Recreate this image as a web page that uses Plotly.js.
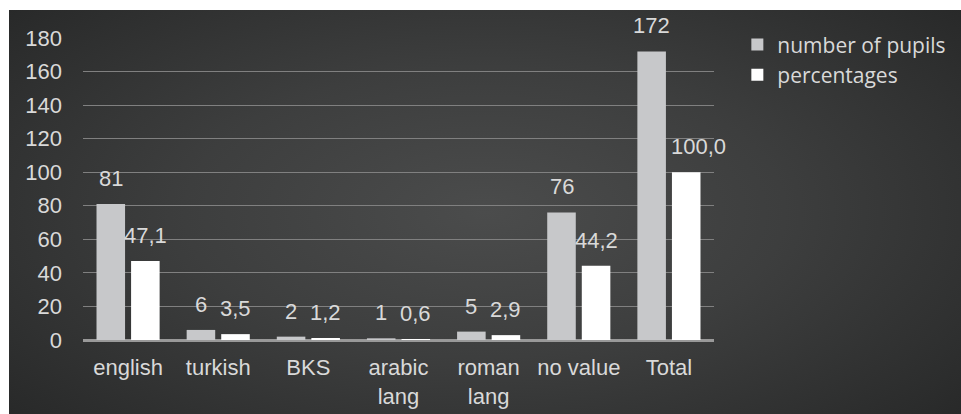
<!DOCTYPE html>
<html>
<head>
<meta charset="utf-8">
<script src="https://cdn.plot.ly/plotly-3.0.1.min.js"></script>
<style>
  html, body { margin: 0; padding: 0; background: #ffffff; width: 961px; height: 414px; overflow: hidden; }
  #panel {
    position: absolute; left: 9px; top: 10px; width: 952px; height: 404px;
    background: radial-gradient(ellipse 70% 80% at 50% 50%, #4b4c4c 0%, #3d3e3e 45%, #262727 100%);
  }
  #chart { width: 952px; height: 404px; }
</style>
</head>
<body>
<div id="panel"><div id="chart"></div></div>
<script>
const categories = ["english", "turkish", "BKS", "arabic<br>lang", "roman<br>lang", "no value", "Total"];
const pupils = [81, 6, 2, 1, 5, 76, 172];
const percentages = [47.1, 3.5, 1.2, 0.6, 2.9, 44.2, 100.0];
const seriesNames = ["number of pupils", "percentages"];
const yTicks = [0, 20, 40, 60, 80, 100, 120, 140, 160, 180];

const fmt = v => v.toFixed(1).replace('.', ',');
const labelColor = '#d9d9d9';
const axisFont = { family: 'Liberation Sans, Arial, sans-serif', size: 22, color: labelColor };

const idx = categories.map((c, i) => i);

const traces = [
  { type: 'bar', name: seriesNames[0], x: idx, y: pupils, marker: { color: '#c7c8ca' }, hoverinfo: 'y' },
  { type: 'bar', name: seriesNames[1], x: idx, y: percentages, marker: { color: '#ffffff' }, hoverinfo: 'y' }
];

const bargap = 0.233;
const slot = (1 - bargap) / 2;
const annotations = [];
pupils.forEach((v, i) => annotations.push({
  x: i - slot / 2, y: v, xref: 'x', yref: 'y', text: String(v), showarrow: false,
  yanchor: 'bottom', yshift: 11, font: axisFont
}));
percentages.forEach((v, i) => annotations.push({
  x: i + slot / 2, y: v, xref: 'x', yref: 'y', text: fmt(v), showarrow: false,
  yanchor: 'bottom', yshift: 11, xshift: i === percentages.length - 1 ? 12 : 0, font: axisFont
}));

const layout = {
  width: 952, height: 404,
  paper_bgcolor: 'rgba(0,0,0,0)', plot_bgcolor: 'rgba(0,0,0,0)',
  margin: { l: 74, r: 247, t: 28, b: 74, autoexpand: false },
  barmode: 'group', bargap: bargap, bargroupgap: 0.174,
  showlegend: true,
  legend: {
    x: 1.037, y: 1.045, xanchor: 'left', yanchor: 'top',
    font: { family: 'Open Sans, sans-serif', size: 21, color: labelColor },
    bgcolor: 'rgba(0,0,0,0)', tracegroupgap: 0, itemclick: false
  },
  xaxis: {
    type: 'linear', range: [-0.5, 6.5],
    tickvals: idx, ticktext: categories,
    showgrid: false, zeroline: false, showline: false,
    ticks: 'outside', ticklen: 8, tickcolor: 'rgba(0,0,0,0)',
    tickfont: axisFont, fixedrange: true
  },
  yaxis: {
    range: [0, 180], tickvals: yTicks, ticktext: yTicks.map(String),
    showgrid: true, gridcolor: '#808080', gridwidth: 1,
    zeroline: true, zerolinecolor: '#999999', zerolinewidth: 3,
    showline: false, ticks: '', ticklabelstandoff: 20,
    tickfont: axisFont, fixedrange: true
  },
  annotations: annotations
};

Plotly.newPlot('chart', traces, layout, { displayModeBar: false, staticPlot: true });
</script>
</body>
</html>
